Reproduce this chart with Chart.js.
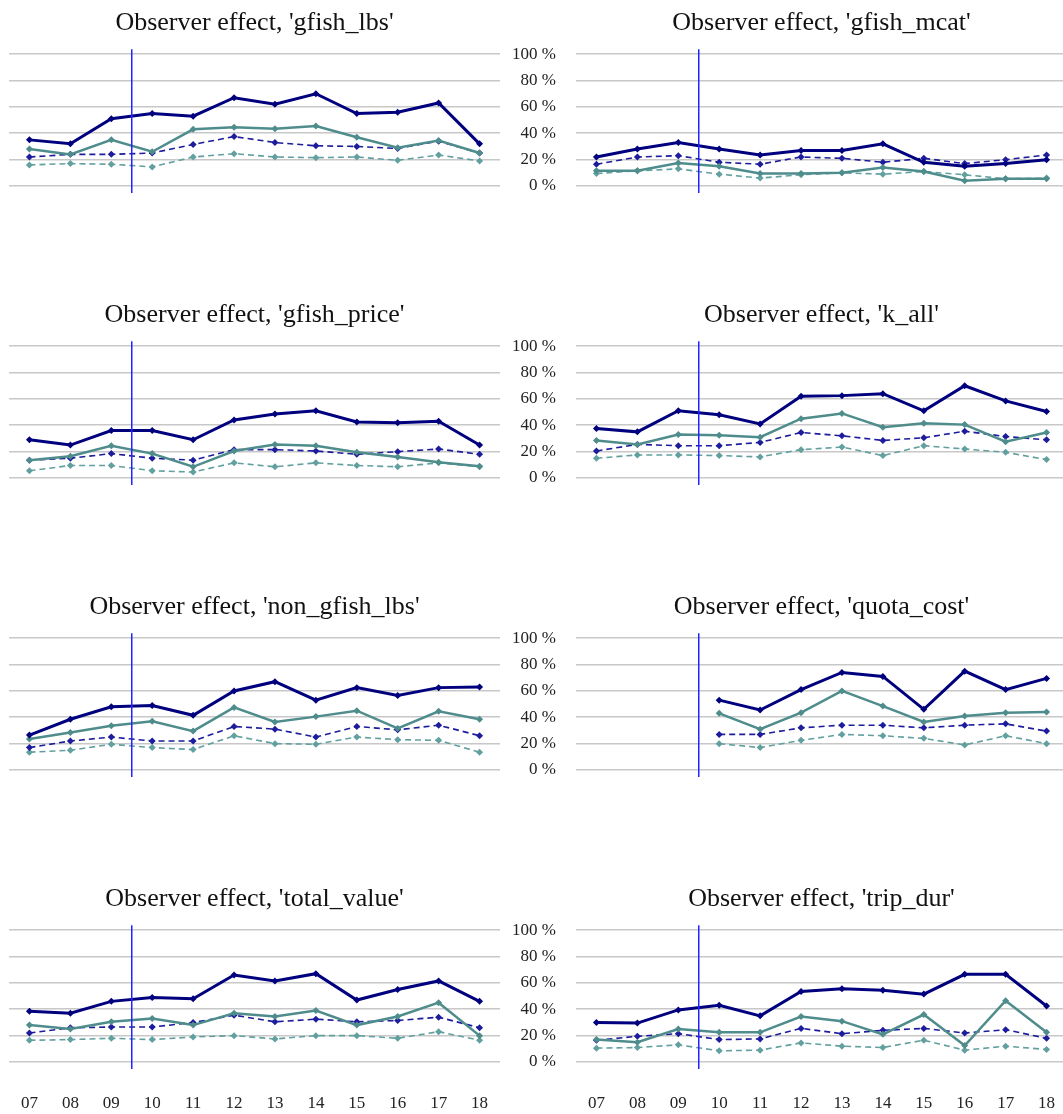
<!DOCTYPE html>
<html>
<head>
<meta charset="utf-8">
<script src="https://cdn.jsdelivr.net/npm/chart.js@4/dist/chart.umd.min.js"></script>
<style>
  html, body { margin: 0; padding: 0; background: #fff; }
  body { width: 1063px; height: 1114px; overflow: hidden; position: relative; }
  canvas { position: absolute; }
</style>
</head>
<body>
<script>
const years = ['07', '08', '09', '10', '11', '12', '13', '14', '15', '16', '17', '18'];
const variables = ['gfish_lbs', 'gfish_mcat', 'gfish_price', 'k_all',
                   'non_gfish_lbs', 'quota_cost', 'total_value', 'trip_dur'];
const yTicks = [0, 20, 40, 60, 80, 100];

// one row per variable, in the order above
const navySolid = [
  [35, 32, 51, 55, 53, 67, 62, 70, 55, 56, 63, 32],
  [22, 28, 33, 28, 23.5, 27, 27, 32, 18, 15, 17, 20],
  [29, 25, 36, 36, 29, 44, 48.5, 51, 42.5, 42, 43, 25],
  [37.5, 35, 51, 48, 41, 62, 62.5, 64, 51, 70, 58.5, 50.5],
  [26.5, 38.5, 48, 49, 41.5, 60, 67, 53, 62.5, 56.5, 62.5, 63],
  [null, null, null, 53, 45.5, 61, 74, 71, 46, 75, 61, 69.5],
  [38.5, 37, 46, 49, 48, 66, 61.5, 67, 47, 55, 61.5, 46],
  [30, 29.5, 39.5, 43, 35, 53.5, 55.5, 54.5, 51.5, 66.5, 66.5, 42.5]
];
const navyDashed = [
  [22, 24, 24, 25, 31.5, 37.5, 33, 30.5, 30, 28.5, 34, 25],
  [16.5, 22, 23, 18, 16.5, 22, 21, 18, 21, 17, 20, 23.5],
  [13.5, 15, 18.5, 15, 13.5, 21.5, 21.5, 20.5, 18, 20, 22, 18],
  [20.5, 25.5, 24.5, 24.5, 27, 34.5, 32, 28.5, 30.5, 35.5, 31.5, 29],
  [17, 22, 25, 22, 22, 33, 31, 25, 33, 30.5, 34, 26],
  [null, null, null, 27, 27, 32, 34, 34, 32, 34, 35, 29.5],
  [22, 26, 26.5, 26.5, 30, 35.5, 30.5, 32.5, 30.5, 31.5, 34, 26],
  [16.5, 19.5, 21.5, 17, 17.5, 25.5, 21.5, 24, 25.5, 22, 24.5, 18]
];
const tealSolid = [
  [28, 24, 35, 26, 43, 44.5, 43.5, 45.5, 37, 29, 34.5, 25],
  [11.5, 11.5, 17.5, 15, 9.5, 9.5, 10, 14, 11, 4, 5.5, 5.5],
  [13.5, 16.5, 24.5, 18.5, 8.5, 20.5, 25.5, 24.5, 19.5, 16, 12, 9],
  [28.5, 25.5, 33, 32.5, 31, 45, 49, 38.5, 41.5, 40.5, 27.5, 34.5],
  [23.5, 28.5, 33.5, 37, 29.5, 47.5, 36.5, 40.5, 45, 31.5, 44.5, 38.5],
  [null, null, null, 43, 31, 43.5, 60, 48.5, 36.5, 41, 43.5, 44],
  [28, 25, 30.5, 33, 28, 37, 34.5, 39, 28, 34.5, 45, 20],
  [17, 15, 25, 22.5, 22.5, 34.5, 31, 21, 36, 12.5, 46.5, 22.5]
];
const tealDashed = [
  [16, 17, 16.5, 14.5, 22, 24.5, 22, 21.5, 22, 19.5, 23.5, 19],
  [9.5, 11.5, 13, 9, 6, 8.5, 10, 9, 11, 8.5, 5.5, 6],
  [5.5, 9.5, 9.5, 5.5, 4.5, 11.5, 8.5, 11.5, 9.5, 8.5, 11.5, 8.5],
  [15, 17.5, 17.5, 17, 16, 21.5, 23.5, 17, 24.5, 22, 19.5, 14],
  [13.5, 15, 19.5, 17, 15.5, 26, 20, 19.5, 25, 23, 22.5, 13.5],
  [null, null, null, 20, 17, 22.5, 27, 26, 24, 19, 26, 20],
  [16.5, 17, 18, 17, 19, 20, 17.5, 20, 20, 18, 23, 16.5],
  [10.5, 11, 13, 8.5, 9, 14.5, 12, 11, 16.5, 9, 12, 9.5]
];

const NAVY = '#00007e';
const TEAL = '#4f8c8c';
const NAVY_D = '#1c1c9c';
const TEAL_D = '#62a0a0';
const SERIF = '"Liberation Serif", "Times New Roman", serif';

// blue marker line between 09 and 10
const splitLine = {
  id: 'splitLine',
  afterDatasetsDraw(chart) {
    const x = chart.scales.x;
    const area = chart.chartArea;
    const px = (x.getPixelForValue(2) + x.getPixelForValue(3)) / 2;
    const ctx = chart.ctx;
    ctx.save();
    ctx.strokeStyle = '#2323ff';
    ctx.lineWidth = 1.5;
    ctx.beginPath();
    ctx.moveTo(px, area.top - 5);
    ctx.lineTo(px, area.bottom + 7);
    ctx.stroke();
    ctx.restore();
  }
};

function makeSet(data, color, width, dashed) {
  return {
    data: data,
    borderColor: color,
    backgroundColor: color,
    borderWidth: width,
    borderDash: dashed ? [6, 4] : [],
    pointStyle: 'rectRot',
    pointRadius: 3.5,
    pointBorderWidth: 0,
    tension: 0,
    spanGaps: false
  };
}

function noPadding(scale) {
  scale.paddingLeft = 0;
  scale.paddingRight = 0;
  scale.paddingTop = 0;
  scale.paddingBottom = 0;
}

function drawPanel(i) {
  const row = Math.floor(i / 2);
  const col = i % 2;
  const lastRow = row === 3;
  const canvas = document.createElement('canvas');
  const w = 556;
  const h = lastRow ? 238 : 200;
  canvas.width = w;
  canvas.height = h;
  canvas.style.width = w + 'px';
  canvas.style.height = h + 'px';
  canvas.style.left = (col === 0 ? 0 : 567) + 'px';
  canvas.style.top = (row * 292) + 'px';
  document.body.appendChild(canvas);

  new Chart(canvas.getContext('2d'), {
    type: 'line',
    data: {
      labels: years,
      datasets: [
        makeSet(navySolid[i], NAVY, 3, false),
        makeSet(tealSolid[i], TEAL, 2.5, false),
        makeSet(navyDashed[i], NAVY_D, 1.6, true),
        makeSet(tealDashed[i], TEAL_D, 1.6, true)
      ]
    },
    options: {
      responsive: false,
      animation: false,
      devicePixelRatio: 1,
      layout: { padding: { left: 9, right: 0, top: 0, bottom: lastRow ? 2 : 14 } },
      plugins: {
        legend: { display: false },
        tooltip: { enabled: false },
        title: {
          display: true,
          fullSize: false,
          text: "Observer effect, '" + variables[i] + "'",
          color: '#111',
          font: { family: SERIF, size: 26, weight: 'normal', lineHeight: 1.2 },
          padding: { top: 8, bottom: 15 }
        }
      },
      scales: {
        x: {
          display: lastRow,
          offset: true,
          grid: { display: false },
          border: { display: false },
          afterFit(scale) {
            noPadding(scale);
            if (lastRow) scale.height = 50;
          },
          ticks: {
            color: '#222',
            padding: 23,
            maxRotation: 0,
            autoSkip: false,
            font: { family: SERIF, size: 17 }
          }
        },
        y: {
          position: 'right',
          min: 0,
          max: 100,
          afterBuildTicks(axis) {
            axis.ticks = yTicks.map(v => ({ value: v }));
          },
          afterFit(scale) {
            noPadding(scale);
            scale.width = 56;
          },
          grid: { color: '#c8c8c8', lineWidth: 1.6, drawTicks: false },
          border: { display: false },
          ticks: {
            color: '#222',
            padding: 10,
            autoSkip: false,
            crossAlign: 'far',
            font: { family: SERIF, size: 17 },
            callback: v => v + ' %'
          }
        }
      }
    },
    plugins: [splitLine]
  });
}

for (let i = 0; i < variables.length; i++) {
  drawPanel(i);
}
</script>
</body>
</html>
